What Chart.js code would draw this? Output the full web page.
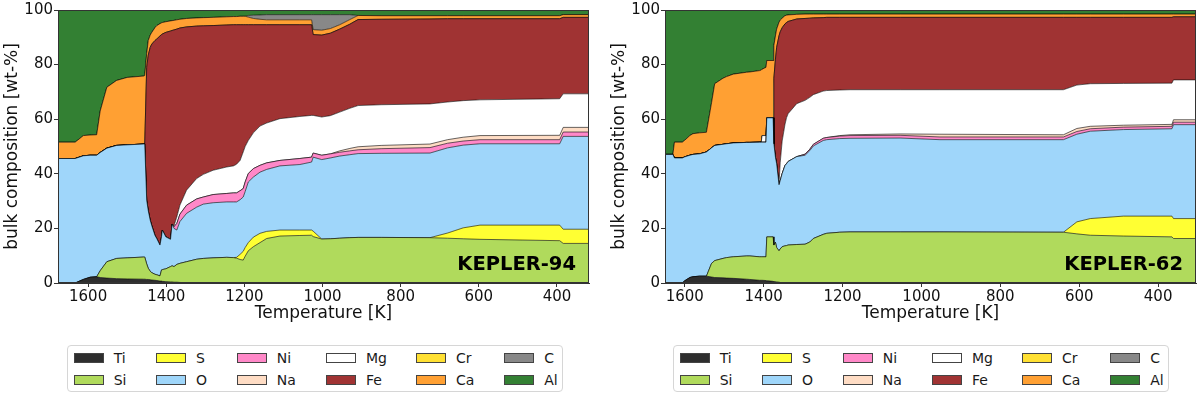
<!DOCTYPE html>
<html>
<head>
<meta charset="utf-8">
<script src="https://cdn.jsdelivr.net/npm/chart.js@4.4.1/dist/chart.umd.min.js"></script>
<style>
  body { margin: 0; width: 1200px; height: 396px; background: #fff; position: relative; overflow: hidden; font-family: "DejaVu Sans", sans-serif; }
  canvas { position: absolute; top: 0; }
  #c94 { left: 0; }
  #c62 { left: 600px; }
  .legend { position: absolute; top: 345px; width: 494px; height: 45px; border: 1px solid #d6d6d6; border-radius: 4px; }
  .item { position: absolute; display: flex; align-items: center; height: 16px; font-size: 14px; color: #1a1a1a; white-space: nowrap; }
  .sw { width: 28px; height: 8px; border: 1px solid #444; margin-right: 10px; }
</style>
</head>
<body>
<canvas id="c94" width="600" height="330"></canvas>
<canvas id="c62" width="600" height="330"></canvas>
<div class="legend" id="leg94" style="left:67px"></div>
<div class="legend" id="leg62" style="left:673px"></div>
<script>
// stacking order, bottom to top
const elements = ['Ti', 'Si', 'S', 'O', 'Ni', 'Na', 'Mg', 'Fe', 'Cr', 'Ca', 'C', 'Al'];
const xTicks = [1600, 1400, 1200, 1000, 800, 600, 400];
const yTicks = [0, 20, 40, 60, 80, 100];

// Values are the UPPER edge of each band (cumulative wt-%).
// Al takes whatever is left up to 100.

// ---- KEPLER-94 ----
const tempK94 = [1677, 1633, 1612, 1595, 1578, 1569, 1552, 1527, 1500, 1458, 1455, 1450, 1446, 1441, 1437, 1429, 1424, 1416, 1412, 1410,
  1401, 1389, 1385, 1380, 1373, 1365, 1348, 1322, 1305, 1280, 1245, 1228, 1220, 1211, 1203, 1198, 1190, 1177, 1160, 1143,
  1109, 1058, 1028, 1024, 1002, 980, 956, 930, 909, 850, 725, 680, 640, 597, 393, 384, 318];
const k94Ti = [0, 0, 1.3, 2.1, 2.3, 2.0, 1.8, 1.6, 1.5, 1.4, 1.4, 1.3, 1.3, 1.2, 1.1, 1.0, 0.9, 0.7, 0.7, 0.6,
  0.5, 0.4, 0.4, 0.3, 0.3, 0.2, 0.1, 0, 0, 0, 0, 0, 0, 0, 0, 0, 0, 0, 0, 0,
  0, 0, 0, 0, 0, 0, 0, 0, 0, 0, 0, 0, 0, 0, 0, 0, 0];
const k94Si = [0, 0, 1.3, 2.1, 2.3, 4.5, 7.8, 9.0, 9.2, 9.5, 9.5, 7.0, 5.4, 4.3, 3.8, 3.2, 3.0, 2.6, 4.8, 4.9,
  5.2, 6.0, 6.3, 6.0, 6.8, 7.2, 7.8, 8.7, 9.0, 9.2, 9.4, 9.3, 9.1, 8.6, 8.4, 9.8, 11.8, 13.3, 14.8, 16.3,
  17.2, 17.4, 17.5, 17.0, 16.1, 16.2, 16.4, 16.6, 16.7, 16.7, 16.6, 16.4, 16.2, 16.0, 15.5, 14.5, 14.5];
const k94S = [0, 0, 1.3, 2.1, 2.3, 4.5, 7.8, 9.0, 9.2, 9.5, 9.5, 7.0, 5.4, 4.3, 3.8, 3.2, 3.0, 2.6, 4.8, 4.9,
  5.2, 6.0, 6.3, 6.0, 6.8, 7.2, 7.8, 8.7, 9.0, 9.2, 9.4, 9.3, 9.4, 10.5, 11.6, 13.0, 14.8, 16.8, 18.2, 18.9,
  19.4, 19.4, 19.4, 19.0, 16.1, 16.2, 16.4, 16.6, 16.7, 16.7, 16.6, 18.3, 20.2, 21.2, 21.2, 19.7, 19.7];
const k94O = [45.6, 45.6, 46.6, 46.8, 46.8, 47.8, 49.4, 50.4, 50.6, 50.9, 50.9, 30.3, 26.5, 23.0, 21.0, 17.5, 16.2, 13.9, 17.0, 19.4,
  16.9, 16.0, 21.6, 20.0, 19.4, 22.5, 25.5, 27.8, 28.9, 29.4, 29.7, 29.7, 29.7, 30.5, 31.5, 33.5, 37.0, 38.8, 40.6, 41.6,
  42.9, 43.4, 44.3, 46.1, 45.2, 45.8, 46.5, 47.0, 47.4, 47.5, 47.6, 49.5, 50.5, 51.0, 51.0, 53.7, 53.7];
const k94Ni = [45.6, 45.6, 46.6, 46.8, 46.8, 47.8, 49.4, 50.4, 50.6, 50.9, 50.9, 30.3, 26.5, 23.0, 21.0, 17.5, 16.2, 13.9, 17.0, 19.4,
  16.9, 16.0, 21.6, 20.6, 21.8, 25.2, 28.5, 30.8, 31.5, 32.4, 32.8, 33.0, 33.0, 33.8, 34.6, 37.0, 40.1, 41.9, 43.1, 44.0,
  44.9, 45.6, 46.1, 47.6, 46.8, 47.3, 47.9, 48.4, 48.8, 49.2, 49.6, 51.2, 52.0, 52.5, 52.5, 55.3, 55.3];
const k94Na = [45.6, 45.6, 46.6, 46.8, 46.8, 47.8, 49.4, 50.4, 50.6, 50.9, 50.9, 30.3, 26.5, 23.0, 21.0, 17.5, 16.2, 13.9, 17.0, 19.4,
  16.9, 16.0, 21.6, 20.6, 21.8, 25.2, 28.5, 30.8, 31.5, 32.4, 32.8, 33.0, 33.0, 33.8, 34.6, 37.0, 40.1, 41.9, 43.1, 44.0,
  44.9, 45.6, 46.1, 47.6, 46.8, 47.3, 48.4, 49.3, 49.9, 50.4, 50.9, 52.5, 53.4, 54.0, 54.1, 57.0, 57.0];
const k94Mg = [45.6, 45.6, 46.6, 46.8, 46.8, 47.8, 49.4, 50.4, 50.6, 50.9, 50.9, 30.3, 26.5, 23.0, 21.0, 17.5, 16.2, 13.9, 17.0, 19.4,
  16.9, 16.0, 21.6, 21.0, 24.2, 28.5, 34.0, 38.3, 39.8, 41.3, 42.5, 42.9, 43.5, 44.9, 48.0, 50.0, 52.2, 55.0, 57.5, 58.6,
  60.2, 61.0, 61.4, 61.4, 60.8, 61.3, 62.6, 64.0, 65.0, 65.3, 65.6, 66.3, 66.8, 67.1, 67.5, 69.3, 69.3];
const k94Fe = [45.6, 45.6, 46.6, 46.8, 46.8, 47.8, 49.4, 50.4, 50.6, 50.9, 50.9, 79.0, 83.5, 86.3, 87.5, 88.8, 89.4, 90.5, 91.0, 91.2,
  91.8, 92.3, 92.5, 92.7, 93.0, 93.4, 93.8, 94.1, 94.2, 94.3, 94.5, 94.6, 94.6, 94.6, 94.6, 94.6, 94.6, 94.6, 94.6, 94.6,
  94.6, 94.6, 94.6, 91.0, 90.8, 91.5, 93.0, 94.8, 96.5, 96.6, 96.7, 96.8, 96.8, 96.8, 96.8, 97.3, 97.3];
const k94Cr = k94Fe; // no visible Cr band
const k94Ca = [51.6, 51.6, 54.0, 54.2, 54.3, 63.0, 71.7, 74.2, 75.3, 75.8, 76.0, 84.0, 88.8, 90.8, 91.8, 93.5, 94.3, 95.0, 95.3, 95.4,
  95.7, 96.0, 96.1, 96.2, 96.4, 96.6, 96.9, 97.1, 97.2, 97.3, 97.5, 97.6, 97.6, 97.7, 97.7, 97.7, 97.4, 96.9, 96.6, 96.4,
  96.4, 96.4, 96.4, 92.8, 92.6, 93.2, 94.6, 96.5, 98.0, 97.9, 97.9, 97.9, 97.9, 97.9, 97.9, 98.3, 98.3];
const k94C = [51.6, 51.6, 54.0, 54.2, 54.3, 63.0, 71.7, 74.2, 75.3, 75.8, 76.0, 84.0, 88.8, 90.8, 91.8, 93.5, 94.3, 95.0, 95.3, 95.4,
  95.7, 96.0, 96.1, 96.2, 96.4, 96.6, 96.9, 97.1, 97.2, 97.3, 97.5, 97.6, 97.6, 97.7, 97.7, 97.7, 98.0, 98.1, 98.2, 98.3,
  98.3, 98.3, 98.3, 98.3, 98.3, 98.3, 98.3, 98.3, 98.0, 97.9, 97.9, 97.9, 97.9, 97.9, 97.9, 98.3, 98.3];

// ---- KEPLER-62 ----
const tempK62 = [1650, 1630, 1626, 1606, 1600, 1587, 1579, 1562, 1545, 1532, 1524, 1503, 1494, 1477, 1443, 1435, 1410, 1406, 1404, 1394,
  1392, 1389, 1376, 1374, 1370, 1367, 1361, 1358, 1353, 1346, 1342, 1338, 1316, 1295, 1283, 1274, 1249, 1240, 1207, 1181,
  1054, 953, 640, 606, 572, 488, 365, 361, 304];
const k62Ti = [0, 0, 0, 0, 0.8, 2.0, 2.3, 2.5, 2.5, 2.2, 2.0, 1.9, 1.8, 1.7, 1.4, 1.3, 1.0, 1.0, 1.0, 0.9,
  0.8, 0.8, 0.6, 0.5, 0.5, 0.4, 0.3, 0.2, 0.1, 0, 0, 0, 0, 0, 0, 0, 0, 0, 0, 0,
  0, 0, 0, 0, 0, 0, 0, 0, 0];
const k62Si = [0, 0, 0, 0, 0.8, 2.0, 2.3, 2.5, 2.5, 7.2, 8.2, 9.0, 9.3, 9.6, 9.9, 9.9, 9.6, 9.6, 9.6, 9.6,
  16.9, 16.9, 16.9, 13.9, 14.9, 13.0, 11.8, 12.5, 13.3, 13.6, 13.7, 13.9, 14.1, 14.2, 15.0, 16.3, 17.8, 18.2, 18.6, 18.7,
  18.7, 18.7, 18.6, 18.0, 17.5, 17.2, 16.9, 16.3, 16.3];
const k62S = [0, 0, 0, 0, 0.8, 2.0, 2.3, 2.5, 2.5, 7.2, 8.2, 9.0, 9.3, 9.6, 9.9, 9.9, 9.6, 9.6, 9.6, 9.6,
  16.9, 16.9, 16.9, 13.9, 14.9, 13.0, 11.8, 12.5, 13.3, 13.6, 13.7, 13.9, 14.1, 14.2, 15.0, 16.3, 17.8, 18.2, 18.6, 18.7,
  18.7, 18.7, 18.6, 22.4, 23.6, 24.5, 24.5, 23.6, 23.6];
const k62O = [47.1, 47.1, 45.8, 45.8, 46.2, 46.8, 47.1, 47.3, 48.0, 49.5, 50.4, 50.8, 51.0, 51.3, 51.5, 51.5, 51.6, 51.6, 51.6, 51.6,
  60.5, 60.5, 60.5, 51.0, 46.0, 43.7, 36.0, 37.5, 40.1, 43.0, 43.7, 44.5, 46.3, 46.8, 48.5, 50.2, 52.2, 52.5, 52.9, 53.0,
  53.1, 52.5, 52.5, 54.5, 55.6, 56.2, 56.5, 58.0, 58.0];
const k62Ni = [47.1, 47.1, 45.8, 45.8, 46.2, 46.8, 47.1, 47.3, 48.0, 49.5, 50.4, 50.8, 51.0, 51.3, 51.5, 51.5, 51.6, 51.6, 51.6, 51.6,
  60.5, 60.5, 60.5, 51.0, 46.0, 43.7, 36.0, 37.5, 40.1, 43.0, 43.7, 44.5, 46.3, 47.2, 49.0, 50.8, 53.0, 53.3, 53.8, 54.0,
  54.1, 53.5, 53.5, 55.5, 56.5, 57.1, 57.4, 58.9, 58.9];
const k62Na = [47.1, 47.1, 45.8, 45.8, 46.2, 46.8, 47.1, 47.3, 48.0, 49.5, 50.4, 50.8, 51.0, 51.3, 51.5, 51.5, 51.6, 51.6, 51.6, 51.6,
  60.5, 60.5, 60.5, 51.0, 46.0, 43.7, 36.0, 37.5, 40.1, 43.0, 43.7, 44.5, 46.3, 47.2, 49.0, 50.8, 53.0, 53.3, 54.0, 54.3,
  54.6, 54.5, 54.3, 56.6, 57.4, 57.8, 58.1, 59.8, 59.8];
const k62Mg = [47.1, 47.1, 45.8, 45.8, 46.2, 46.8, 47.1, 47.3, 48.0, 49.5, 50.4, 50.8, 51.0, 51.3, 51.5, 51.5, 51.6, 51.6, 54.0, 54.0,
  60.5, 60.5, 60.5, 51.0, 46.0, 43.7, 36.0, 44.0, 52.0, 58.0, 60.5, 62.0, 65.7, 66.9, 68.0, 69.0, 70.3, 70.5, 70.7, 70.8,
  70.8, 70.8, 70.8, 72.5, 73.0, 73.1, 73.2, 74.4, 74.4];
const k62Fe = [47.1, 47.1, 45.8, 45.8, 46.2, 46.8, 47.1, 47.3, 48.0, 49.5, 50.4, 50.8, 51.0, 51.3, 51.5, 51.5, 51.6, 51.6, 54.0, 54.0,
  60.5, 60.5, 60.5, 75.0, 82.0, 86.3, 90.5, 92.0, 93.5, 94.9, 95.4, 95.8, 96.7, 96.9, 97.0, 97.1, 97.2, 97.3, 97.3, 97.3,
  97.3, 97.3, 97.3, 97.3, 97.3, 97.3, 97.3, 97.5, 97.5];
const k62Cr = k62Fe; // no visible Cr band
const k62Ca = [47.1, 47.1, 51.6, 51.6, 52.3, 54.0, 54.7, 55.0, 55.2, 66.0, 73.0, 75.0, 75.6, 76.5, 77.2, 77.3, 77.8, 78.0, 78.3, 79.0,
  81.5, 81.5, 81.5, 87.0, 90.5, 93.0, 95.5, 96.3, 97.0, 97.9, 98.1, 98.2, 98.4, 98.5, 98.5, 98.5, 98.5, 98.5, 98.5, 98.5,
  98.5, 98.5, 98.5, 98.5, 98.5, 98.5, 98.5, 98.5, 98.5];
const k62C = k62Ca; // no visible C band

const colors = {
  Ti: '#2e2e2e', Si: '#b0da5c', S: '#ffff33', O: '#9fd6fa', Ni: '#ff88c8', Na: '#fedcc4',
  Mg: '#ffffff', Fe: '#a03333', Cr: '#ffe033', Ca: '#ffa033', C: '#888888', Al: '#338033'
};

const frame = {
  id: 'frame',
  afterDatasetsDraw(chart, args, opts) {
    const { ctx, chartArea: a } = chart;
    ctx.save();
    ctx.strokeStyle = '#333';
    ctx.lineWidth = 1;
    ctx.strokeRect(a.left + 0.5, a.top + 0.5, a.width - 1, a.height - 1);
    ctx.font = 'bold 19.5px "DejaVu Sans"';
    ctx.textAlign = 'right';
    ctx.textBaseline = 'alphabetic';
    ctx.fillStyle = '#000';
    ctx.fillText(opts.name, a.right - 13, a.bottom - 13);
    ctx.restore();
  }
};

function makeChart(id, temps, edges, name, xMin, xMax, pad) {
  const datasets = elements.map((el, i) => {
    // Al has no upper edge of its own: it fills from the C edge to the top
    const edge = el === 'Al' ? edges.C : edges[el];
    return {
      label: el,
      data: temps.map((t, j) => ({ x: t, y: edge[j] })),
      backgroundColor: colors[el],
      borderColor: el === 'Al' ? 'rgba(0,0,0,0)' : 'rgba(0,0,0,0.75)',
      borderWidth: el === 'Al' ? 0 : 0.8,
      fill: el === 'Al' ? 'end' : (i === 0 ? 'origin' : '-1'),
      pointRadius: 0,
      tension: 0
    };
  });

  const font = { family: 'DejaVu Sans', size: 15 };
  return new Chart(document.getElementById(id), {
    type: 'line',
    data: { datasets },
    plugins: [frame],
    options: {
      responsive: false,
      animation: false,
      devicePixelRatio: 1,
      layout: { padding: pad },
      plugins: { legend: { display: false }, tooltip: { enabled: false }, frame: { name } },
      scales: {
        x: {
          type: 'linear', reverse: true, min: xMin, max: xMax,
          afterBuildTicks: s => { s.ticks = xTicks.map(v => ({ value: v })); },
          afterFit: s => { s.height = 47; },
          grid: { drawOnChartArea: false, drawTicks: true, tickLength: 4, color: '#333' },
          border: { color: '#333' },
          ticks: { font, color: '#111', padding: 1, maxRotation: 0, callback: v => String(v) },
          title: { display: true, text: 'Temperature [K]', color: '#111', font: { family: 'DejaVu Sans', size: 17 }, padding: { top: 0, bottom: 6 } }
        },
        y: {
          min: 0, max: 100,
          afterBuildTicks: s => { s.ticks = yTicks.map(v => ({ value: v })); },
          afterFit: s => { s.width = 58; },
          grid: { drawOnChartArea: false, drawTicks: true, tickLength: 4, color: '#333' },
          border: { color: '#333' },
          ticks: { font, color: '#111', padding: 1, callback: v => String(v) },
          title: { display: true, text: 'bulk composition [wt-%]', color: '#111', font: { family: 'DejaVu Sans', size: 17 }, padding: { top: 2, bottom: 0 } }
        }
      }
    }
  });
}

makeChart('c94', tempK94, {
  Ti: k94Ti, Si: k94Si, S: k94S, O: k94O, Ni: k94Ni, Na: k94Na, Mg: k94Mg, Fe: k94Fe, Cr: k94Cr, Ca: k94Ca, C: k94C
}, 'KEPLER-94', 318, 1677, { left: 0, top: 9, right: 11, bottom: 0 });

makeChart('c62', tempK62, {
  Ti: k62Ti, Si: k62Si, S: k62S, O: k62O, Ni: k62Ni, Na: k62Na, Mg: k62Mg, Fe: k62Fe, Cr: k62Cr, Ca: k62Ca, C: k62C
}, 'KEPLER-62', 304, 1650, { left: 7, top: 9, right: 4, bottom: 0 });

// legend: matplotlib-style, 6 columns x 2 rows, filled column by column
const legendCols = [5.7, 88, 168.7, 258, 348, 436.3];
const legendRows = [4, 26];
function buildLegend(id) {
  const box = document.getElementById(id);
  elements.forEach((el, i) => {
    const item = document.createElement('div');
    item.className = 'item';
    item.style.left = legendCols[Math.floor(i / 2)] + 'px';
    item.style.top = legendRows[i % 2] + 'px';
    item.innerHTML = `<span class="sw" style="background:${colors[el]}"></span>${el}`;
    box.appendChild(item);
  });
}
buildLegend('leg94');
buildLegend('leg62');
</script>
</body>
</html>
